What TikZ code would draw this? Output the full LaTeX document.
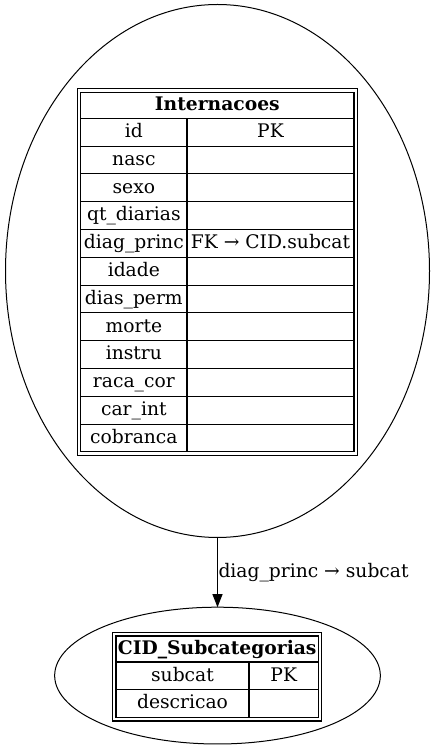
\documentclass[tikz,border=0pt]{standalone}
\usepackage{fontspec}
\setmainfont{DejaVu Serif}
\usetikzlibrary{positioning, shapes.geometric, arrows.meta, fit}

\begin{document}
\begin{tikzpicture}[x=1pt, y=1pt]
      \tikzset{every node/.style={inner sep=0pt, outer sep=0pt, font=\fontsize{18.7}{22}\selectfont},
        entity/.style={draw, ellipse, line width=1pt},
        cell/.style={draw, line width=1.1pt, minimum height=27.8pt, text height=15pt, text depth=4.4pt},
        head/.style={cell, minimum height=26pt, font=\fontsize{18.7}{22}\selectfont\bfseries},
        ikey/.style={cell, minimum width=106.3pt}, ival/.style={cell, minimum width=167pt},
        ckey/.style={cell, minimum width=133pt}, cval/.style={cell, minimum width=69.5pt},
        frame/.style={draw, line width=1.1pt, inner sep=3.4pt},
        link/.style={line width=1pt, -{Triangle[length=13pt, width=10pt]}}}
      \useasboundingbox (0,0) rectangle (435,750);
      % entities
      \node[entity, minimum width=424pt, minimum height=533pt] (internacoes) at (217.5,479) {};
      \node[entity, minimum width=325.7pt, minimum height=136.8pt] (cid) at (217.5,74.4) {};
      % Internacoes table
      \node[head, minimum width=273.3pt] (int) at (217.35,644.7) {Internacoes};
      \node[ikey, anchor=north west] (int-id) at (int.south west) {id};
      \node[ival, right=0pt of int-id] (int-id-v) {PK};
      \node[ikey, below=0pt of int-id] (int-nasc) {nasc};
      \node[ival, right=0pt of int-nasc] (int-nasc-v) {};
      \node[ikey, below=0pt of int-nasc] (int-sexo) {sexo};
      \node[ival, right=0pt of int-sexo] (int-sexo-v) {};
      \node[ikey, below=0pt of int-sexo] (int-qt) {qt\_diarias};
      \node[ival, right=0pt of int-qt] (int-qt-v) {};
      \node[ikey, below=0pt of int-qt] (int-diag) {diag\_princ};
      \node[ival, right=0pt of int-diag] (int-diag-v) {FK → CID.subcat};
      \node[ikey, below=0pt of int-diag] (int-idade) {idade};
      \node[ival, right=0pt of int-idade] (int-idade-v) {};
      \node[ikey, below=0pt of int-idade] (int-dias) {dias\_perm};
      \node[ival, right=0pt of int-dias] (int-dias-v) {};
      \node[ikey, below=0pt of int-dias] (int-morte) {morte};
      \node[ival, right=0pt of int-morte] (int-morte-v) {};
      \node[ikey, below=0pt of int-morte] (int-instru) {instru};
      \node[ival, right=0pt of int-instru] (int-instru-v) {};
      \node[ikey, below=0pt of int-instru] (int-raca) {raca\_cor};
      \node[ival, right=0pt of int-raca] (int-raca-v) {};
      \node[ikey, below=0pt of int-raca] (int-car) {car\_int};
      \node[ival, right=0pt of int-car] (int-car-v) {};
      \node[ikey, below=0pt of int-car] (int-cob) {cobranca};
      \node[ival, right=0pt of int-cob] (int-cob-v) {};
      \node[frame, fit=(int)(int-cob-v)] (int-frame) {};
      % CID_Subcategorias table
      \node[head, minimum width=202.5pt] (sub) at (217.25,101) {CID\_Subcategorias};
      \node[ckey, anchor=north west] (sub-cat) at (sub.south west) {subcat};
      \node[cval, right=0pt of sub-cat] (sub-cat-v) {PK};
      \node[ckey, below=0pt of sub-cat] (sub-desc) {descricao};
      \node[cval, right=0pt of sub-desc] (sub-desc-v) {};
      \node[frame, fit=(sub)(sub-desc-v)] (sub-frame) {};
      % relation
      \draw[link] (internacoes) -- node[right=1pt] {diag\_princ → subcat} (cid);
    \end{tikzpicture}
\end{document}
